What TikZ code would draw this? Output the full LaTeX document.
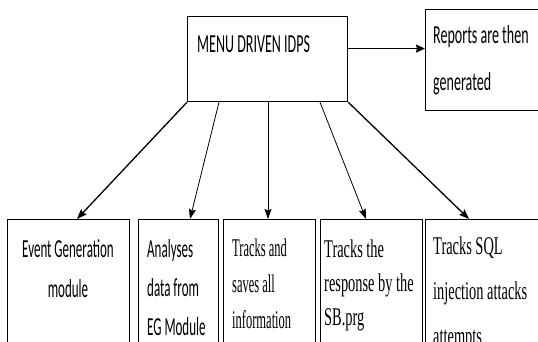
\documentclass[tikz,border=0pt]{standalone}
\usepackage{fontspec}
\usetikzlibrary{arrows.meta}
\newfontfamily\calTop{Carlito}[FakeStretch=0.54]
\newfontfamily\calBot{Carlito}[FakeStretch=0.5]
\newfontfamily\tmsA{Liberation Serif}[FakeStretch=0.49]
\newfontfamily\tmsB{Liberation Serif}[FakeStretch=0.565]
\newcommand{\linesL}[1]{\begin{tabular}[t]{@{}l@{}}#1\end{tabular}}
\newcommand{\linesC}[1]{\begin{tabular}[t]{@{}c@{}}#1\end{tabular}}
\tikzset{
  box/.style={draw=black, line width=1.2pt, fill=white, rectangle, inner sep=0pt, anchor=north west},
  txt/.style={inner sep=0pt, anchor=base west, text=black},
  thin arrow/.style={draw=black, line width=0.8pt, -{Stealth[length=10pt,width=7pt,inset=1.5pt]}},
  thick arrow/.style={draw=black, line width=1.3pt, -{Stealth[length=10pt,width=7.5pt,inset=1.5pt]}},
  main arrow/.style={draw=black, line width=1.8pt, -{Stealth[length=9pt,width=8pt,inset=1pt]}}
}
\begin{document}
\begin{tikzpicture}[x=1pt,y=-1pt]
\useasboundingbox (0,0) rectangle (538,342);
\clip (0,0) rectangle (538,342);
\fill[white] (0,0) rectangle (538,342);
% boxes
\node[box, minimum width=160pt, minimum height=85pt] (m) at (187,16) {};
\node[box, minimum width=125pt, minimum height=101pt] (r) at (425,9) {};
\node[box, minimum width=122pt, minimum height=140pt] (b1) at (7,219) {};
\node[box, minimum width=80pt, minimum height=140pt] (b2) at (138,219) {};
\node[box, minimum width=92pt, minimum height=140pt] (b3) at (223,219) {};
\node[box, minimum width=102pt, minimum height=140pt] (b4) at (320,219) {};
\node[box, minimum width=125pt, minimum height=140pt] (b5) at (425,219) {};
% texts
\node[txt, font={\calTop\fontsize{26}{30}\selectfont}] (tm) at (197,53) {\linesL{MENU DRIVEN IDPS}};
\node[txt, font={\calTop\fontsize{26}{47}\selectfont}] (tr) at (433,44) {\linesL{Reports are then\\generated}};
\node[txt, anchor=base, font={\calBot\fontsize{26}{40}\selectfont}] (t1) at (68,257) {\linesC{Event Generation\\module}};
\node[txt, font={\calBot\fontsize{26}{39}\selectfont}] (t2) at (147,257) {\linesL{Analyses\\data from\\EG Module}};
\node[txt, font={\tmsA\fontsize{25.5}{36}\selectfont}] (t3) at (232,256) {\linesL{Tracks and\\saves all\\information}};
\node[txt, font={\tmsB\fontsize{25.5}{34}\selectfont}] (t4) at (324,257) {\linesL{Tracks the\\response by the\\SB.prg}};
\node[txt, font={\tmsB\fontsize{25.5}{45}\selectfont}] (t5) at (433,254) {\linesL{Tracks SQL\\injection attacks\\attempts}};
% connectors
\draw[main arrow] ([yshift=10.5pt]m.east) -- ([yshift=10.5pt]m.east -| r.west);
\draw[thick arrow] (m.south west) -- ([xshift=70pt]b1.north west);
\draw[thin arrow] ([xshift=32pt]m.south west) -- ([xshift=52pt]b2.north west);
\draw[thin arrow] ([xshift=81pt]m.south west) -- ([xshift=45pt]b3.north west);
\draw[thin arrow] ([xshift=133pt]m.south west) -- ([xshift=46pt]b4.north west);
\draw[thick arrow] (m.south east) -- ([xshift=44pt]b5.north west);
\end{tikzpicture}
\end{document}
